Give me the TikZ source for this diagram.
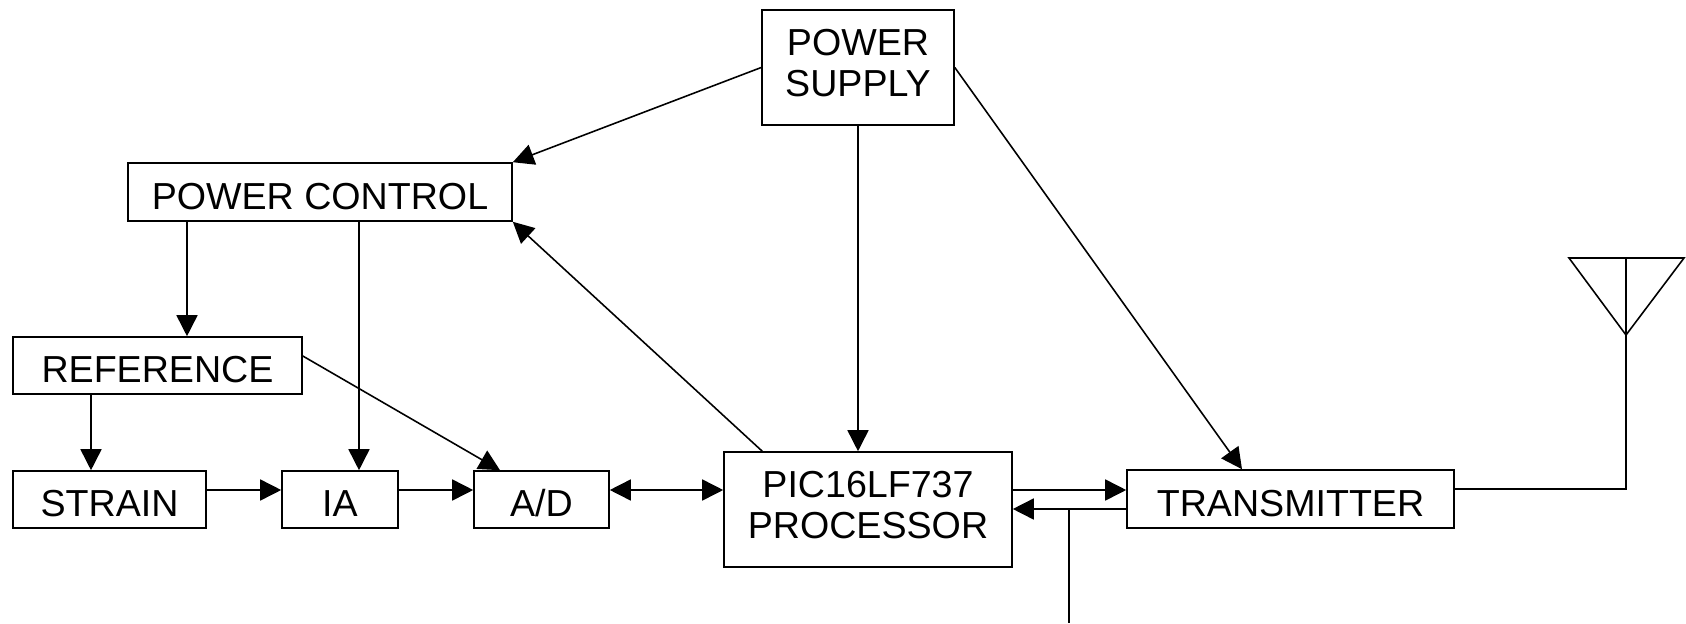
\documentclass[tikz,border=0pt]{standalone}
\usepackage{fontspec}
\setmainfont{Liberation Sans}
\usepackage{tikz}
\usetikzlibrary{arrows.meta}

\begin{document}
\begin{tikzpicture}[
    blk/.style={draw, line width=0.45pt, inner sep=0pt, align=center,
        font=\fontsize{10.7}{11.6}\selectfont},
    one/.style={blk, text height=3.4mm, text depth=0pt},
    two/.style={blk, text depth=0.9mm},
    arr/.style={-{Triangle[length=2.1mm, width=2.1mm]}},
    dbl/.style={{Triangle[length=2.1mm, width=2.1mm]}-{Triangle[length=2.1mm, width=2.1mm]}},
    line width=0.45pt]
    \useasboundingbox (0,0) rectangle (16.86,6.23);

    \node[two, minimum width=1.92cm, minimum height=1.15cm] (supply) at (8.58,5.555) {POWER\\SUPPLY};
    \node[one, minimum width=3.84cm, minimum height=0.58cm] (pwrctl) at (3.20,4.31) {POWER CONTROL};
    \node[one, minimum width=2.89cm, minimum height=0.57cm] (ref) at (1.575,2.575) {REFERENCE};
    \node[one, minimum width=1.93cm, minimum height=0.57cm] (strain) at (1.095,1.235) {STRAIN};
    \node[one, minimum width=1.16cm, minimum height=0.57cm] (ia) at (3.40,1.235) {IA};
    \node[one, minimum width=1.35cm, minimum height=0.57cm] (ad) at (5.415,1.235) {A/D};
    \node[two, minimum width=2.88cm, minimum height=1.15cm] (proc) at (8.68,1.135) {PIC16LF737\\PROCESSOR};
    \node[one, minimum width=3.27cm, minimum height=0.58cm] (tx) at (12.905,1.24) {TRANSMITTER};

    \coordinate (refin) at ([xshift=0.295cm]ref.north);
    \coordinate (iain) at ([xshift=0.19cm]ia.north);
    \coordinate (stin) at ([xshift=-0.185cm]strain.north);
    \coordinate (txa) at ([yshift=0.09cm]tx.west);
    \coordinate (txb) at ([yshift=-0.10cm]tx.west);
    \coordinate (rxend) at (10.69,0);
    \coordinate (anttip) at (16.26,2.88);

    \draw[arr] (supply.west) -- (pwrctl.north east);
    \draw[arr] (supply.south) -- (supply.south |- proc.north);
    \draw[arr] (supply.east) -- ([xshift=-0.485cm]tx.north);
    \draw[arr] (refin |- pwrctl.south) -- (refin);
    \draw[arr] (iain |- pwrctl.south) -- (iain);
    \draw[arr] (stin |- ref.south) -- (stin);
    \draw[arr] ([yshift=0.095cm]ref.east) -- ([xshift=-0.415cm]ad.north);
    \draw[arr] ([yshift=0.095cm]strain.east) -- ([yshift=0.095cm]ia.west);
    \draw[arr] ([yshift=0.095cm]ia.east) -- ([yshift=0.095cm]ad.west);
    \draw[dbl] ([yshift=0.095cm]ad.east) -- ([yshift=0.095cm]ad.east -| proc.west);
    \draw[arr] ([xshift=0.39cm]proc.north west) -- (pwrctl.south east);
    \draw[arr] (txa -| proc.east) -- (txa);
    \draw[arr] (txb) -- (txb -| proc.east);
    \draw (txb -| rxend) -- (rxend);

    \draw ([yshift=0.10cm]tx.east) -| (16.26,3.65);
    \draw (15.69,3.65) -- (anttip) -- (16.84,3.65) -- cycle;
\end{tikzpicture}
\end{document}
